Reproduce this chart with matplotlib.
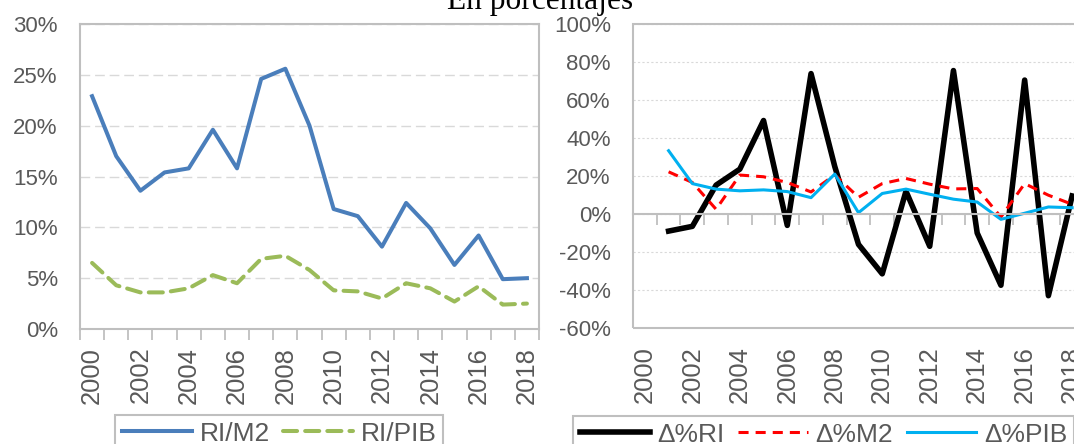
import numpy as np
import matplotlib.pyplot as plt
from matplotlib.patches import Rectangle

plt.rcParams['font.family'] = ['Liberation Sans', 'DejaVu Sans']

# Reservas internacionales: ratios (left) and annual changes (right), in %
years = list(range(2000, 2019))
ri_m2 = [22.9, 17.0, 13.6, 15.4, 15.8, 19.6, 15.8, 24.6, 25.6, 20.0,
         11.8, 11.1, 8.1, 12.4, 9.9, 6.3, 9.2, 4.9, 5.0]
ri_pib = [6.5, 4.3, 3.6, 3.6, 4.0, 5.3, 4.5, 6.9, 7.2, 5.8,
          3.8, 3.7, 3.0, 4.5, 4.0, 2.7, 4.2, 2.4, 2.5]

var_years = list(range(2001, 2019))
var_ri = [-9.0, -6.5, 15.2, 23.6, 49.2, -6.0, 73.9, 25.0, -16.0,
          -31.5, 12.0, -17.0, 75.5, -10.0, -37.5, 70.5, -43.0, 9.5]
var_m2 = [22.2, 16.6, 2.5, 20.5, 19.6, 16.6, 11.6, 20.6, 8.8,
          16.0, 18.7, 15.7, 13.2, 13.4, -1.6, 16.0, 9.9, 5.1]
var_pib = [33.3, 16.0, 13.1, 12.2, 12.7, 11.8, 8.6, 21.0, 0.7,
           10.8, 13.1, 10.4, 7.8, 6.3, -2.8, 0.4, 3.7, 3.3]

frame_color = '#bfbfbf'
text_color = '#595959'
W, H = 1074, 444

fig = plt.figure(figsize=(W / 100, H / 100), dpi=100)


def category_axis(ax, pad):
    n = len(years)
    ax.set_xlim(-0.5, n - 0.5)
    ax.set_xticks(np.arange(n + 1) - 0.5)
    ax.set_xticklabels([])
    ax.set_xticks(np.arange(0, n, 2), minor=True)
    ax.set_xticklabels([str(y) for y in years[::2]], minor=True, rotation=90)
    ax.tick_params(axis='x', which='major', length=8, width=1.3,
                   color=frame_color, direction='out')
    ax.tick_params(axis='x', which='minor', length=0, pad=pad,
                   labelsize=18.4, labelcolor=text_color)


def pct_axis(ax, lo, hi, step):
    ax.set_ylim(lo, hi)
    ax.set_yticks(range(lo, hi + 1, step))
    ax.yaxis.set_major_formatter(lambda v, p: f'{v:.0f}%')
    ax.tick_params(axis='y', length=0, pad=16, labelsize=16,
                   labelcolor=text_color)
    ax.set_axisbelow(True)


# left panel: ratios
ax1 = fig.add_axes([80 / W, 115 / H, 459 / W, 305 / H])
x = np.arange(len(years))
ax1.plot(x, ri_m2, color='#4a7ebb', lw=2.9, label='RI/M2')
ax1.plot(x, ri_pib, color='#9bbb59', lw=2.9, ls=(0, (3.5, 2)),
         dash_capstyle='round', label='RI/PIB')
pct_axis(ax1, 0, 30, 5)
category_axis(ax1, 12.7)
ax1.grid(axis='y', color='#d9d9d9', lw=1.0, ls=(0, (7, 3.5)))
for s in ax1.spines.values():
    s.set_color(frame_color)
    s.set_linewidth(1.5)

# right panel: annual changes, category axis crossing at 0%
ax2 = fig.add_axes([633 / W, 116 / H, 451 / W, 304 / H])
for side in ['top', 'right', 'left']:
    ax2.spines[side].set_visible(False)
ax2.spines['bottom'].set_position(('data', 0))
ax2.spines['bottom'].set_color(frame_color)
ax2.spines['bottom'].set_linewidth(1.5)
xv = [years.index(y) for y in var_years]
ax2.plot(xv, var_ri, color='black', lw=4.0, label='Δ%RI')
ax2.plot(xv, var_m2, color='#ff0000', lw=2.2, ls=(0, (3.3, 2.3)),
         label='Δ%M2')
ax2.plot(xv, var_pib, color='#00b0f0', lw=2.2, label='Δ%PIB')
pct_axis(ax2, -60, 100, 20)
category_axis(ax2, 95)
ax2.grid(axis='y', color='#d9d9d9', lw=0.8, ls=(0, (2, 2)))
ax2.add_patch(Rectangle((0, 0), 1, 1, transform=ax2.transAxes, fill=False,
                        ec=frame_color, lw=1.5, clip_on=False))

# legends below each panel
for ax, x0, y0 in [(ax1, 115, 415), (ax2, 573, 416)]:
    leg = fig.legend(*ax.get_legend_handles_labels(), loc='upper left',
                     bbox_to_anchor=(x0 / W, 1 - y0 / H), ncol=3,
                     frameon=True, fancybox=False, edgecolor=frame_color,
                     framealpha=1, fontsize=19, handlelength=2.65,
                     handletextpad=0.3, columnspacing=0.5, borderpad=0.25,
                     borderaxespad=0, labelcolor=text_color)
    leg.get_frame().set_linewidth(1.5)

fig.text(0.503, 1 - 9 / H, 'En porcentajes', family='Liberation Serif',
         fontsize=22.6, ha='center', va='baseline')

fig.savefig('out.png', dpi=100)
